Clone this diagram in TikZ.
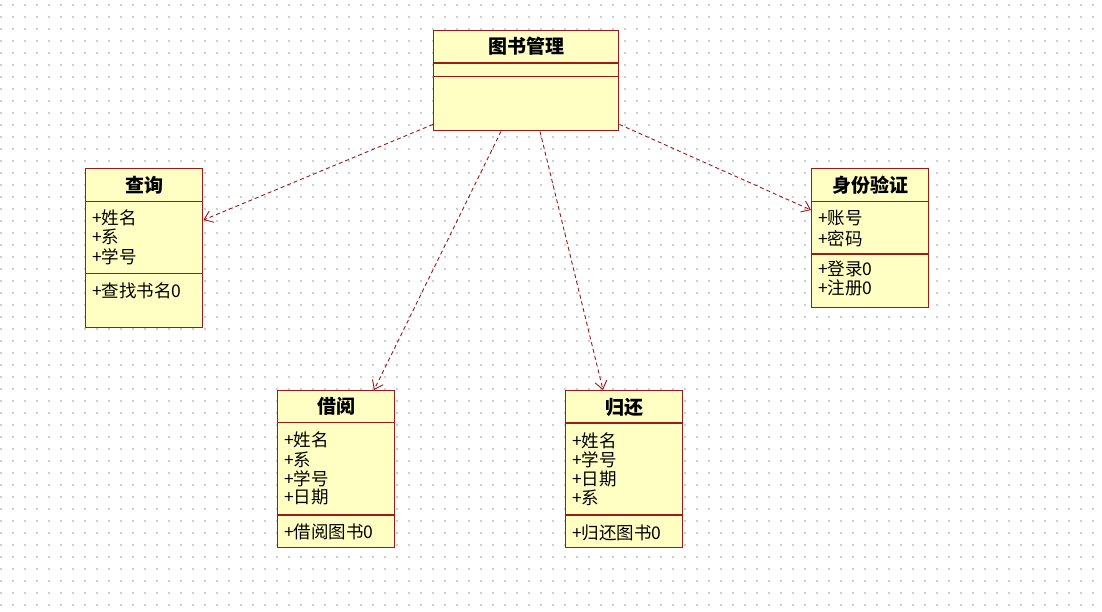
\documentclass[tikz,border=0pt]{standalone}
\usepackage{fontspec}
\setmainfont{Noto Sans CJK SC}
\usetikzlibrary{arrows.meta,calc}
\definecolor{umlred}{RGB}{160,24,24}
\definecolor{umlfill}{RGB}{255,255,196}
\definecolor{dotgrey}{RGB}{205,205,205}
\tikzset{
  umlbox/.style={draw=umlred, fill=umlfill, line width=1.4pt, rectangle, inner sep=0pt, anchor=north west},
  umlsep/.style={draw=umlred, line width=1.4pt},
  umltitle/.style={font=\fontsize{19}{22}\selectfont\bfseries, inner sep=0pt},
  umlattr/.style={font=\fontsize{17.5}{19}\selectfont, inner sep=0pt, anchor=west},
  dep/.style={draw=umlred, line width=0.9pt, dash pattern=on 4pt off 3pt, -{Straight Barb[length=8pt,width=12pt]}}
}
\newcommand\umlsepline[2]{\draw[umlsep] ($(#1.north west)+(0,#2)$) -- ($(#1.north east)+(0,#2)$);}
\begin{document}
\begin{tikzpicture}[x=1pt,y=-1pt]
\useasboundingbox (0,0) rectangle (1102,612);
\fill[white] (0,0) rectangle (1102,612);
\foreach \i in {0,...,91}{
  \foreach \j in {0,...,50}{
    \fill[dotgrey] ({1+12*\i-0.8},{5+12*\j-0.8}) rectangle ++(1.6,1.6);
  }
}
% boxes
\node[umlbox, minimum width=185pt, minimum height=100pt] (ts) at (433,30) {};
\node[umlbox, minimum width=117pt, minimum height=159pt] (cx) at (85,168) {};
\node[umlbox, minimum width=117pt, minimum height=139pt] (sf) at (811,168) {};
\node[umlbox, minimum width=117pt, minimum height=157pt] (jy) at (277,390) {};
\node[umlbox, minimum width=117pt, minimum height=157pt] (gh) at (565,390) {};
% separators
\umlsepline{ts}{33}\umlsepline{ts}{46.5}
\umlsepline{cx}{33.7}\umlsepline{cx}{105.3}
\umlsepline{sf}{33.7}\umlsepline{sf}{86}
\umlsepline{jy}{32.7}\umlsepline{jy}{125}
\umlsepline{gh}{33}\umlsepline{gh}{125}
% titles
\node[umltitle] (ts-t) at ($(ts.north)+(0,16.5)$) {图书管理};
\node[umltitle] (cx-t) at ($(cx.north)+(0,17)$) {查询};
\node[umltitle] (sf-t) at ($(sf.north)+(0,17)$) {身份验证};
\node[umltitle] (jy-t) at ($(jy.north)+(0,16.7)$) {借阅};
\node[umltitle] (gh-t) at ($(gh.north)+(0,17)$) {归还};
% 查询
\node[umlattr] (cx-a1) at ($(cx.north west)+(7,50)$) {+姓名};
\node[umlattr] (cx-a2) at ($(cx.north west)+(7,69)$) {+系};
\node[umlattr] (cx-a3) at ($(cx.north west)+(7,88.5)$) {+学号};
\node[umlattr] (cx-m1) at ($(cx.north west)+(7,122.5)$) {+查找书名0};
% 身份验证
\node[umlattr] (sf-a1) at ($(sf.north west)+(7,50.3)$) {+账号};
\node[umlattr] (sf-a2) at ($(sf.north west)+(7,70.3)$) {+密码};
\node[umlattr] (sf-m1) at ($(sf.north west)+(7,101.3)$) {+登录0};
\node[umlattr] (sf-m2) at ($(sf.north west)+(7,120.3)$) {+注册0};
% 借阅
\node[umlattr] (jy-a1) at ($(jy.north west)+(7,50)$) {+姓名};
\node[umlattr] (jy-a2) at ($(jy.north west)+(7,69.7)$) {+系};
\node[umlattr] (jy-a3) at ($(jy.north west)+(7,88.3)$) {+学号};
\node[umlattr] (jy-a4) at ($(jy.north west)+(7,107.3)$) {+日期};
\node[umlattr] (jy-m1) at ($(jy.north west)+(7,141.7)$) {+借阅图书0};
% 归还
\node[umlattr] (gh-a1) at ($(gh.north west)+(7,51)$) {+姓名};
\node[umlattr] (gh-a2) at ($(gh.north west)+(7,70)$) {+学号};
\node[umlattr] (gh-a3) at ($(gh.north west)+(7,89.3)$) {+日期};
\node[umlattr] (gh-a4) at ($(gh.north west)+(7,108.3)$) {+系};
\node[umlattr] (gh-m1) at ($(gh.north west)+(7,143.3)$) {+归还图书0};
% dependencies
\draw[dep] ($(ts.south west)+(0,-7)$) -- ($(cx.north east)+(0,52)$);
\draw[dep] ($(ts.south west)+(68,0)$) -- ($(jy.north west)+(97,0)$);
\draw[dep] ($(ts.south west)+(107,0)$) -- ($(gh.north west)+(38,0)$);
\draw[dep] ($(ts.south east)+(0,-7)$) -- ($(sf.north west)+(0,42)$);
\end{tikzpicture}
\end{document}
